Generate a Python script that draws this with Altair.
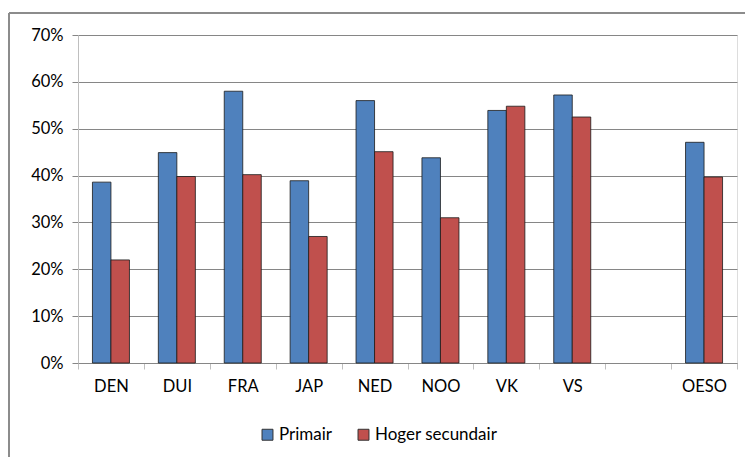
import altair as alt
import pandas as pd

categories = ["DEN", "DUI", "FRA", "JAP", "NED", "NOO", "VK", "VS", " ", "OESO"]
primair = [0.386, 0.449, 0.580, 0.389, 0.560, 0.438, 0.539, 0.572, None, 0.471]
hoger = [0.220, 0.398, 0.402, 0.270, 0.451, 0.310, 0.548, 0.525, None, 0.397]
series = ["Primair", "Hoger secundair"]
colors = ["#4F81BD", "#C0504D"]

rows = []
for c, p, h in zip(categories, primair, hoger):
    rows.append({"cat": c, "serie": series[0], "val": p})
    rows.append({"cat": c, "serie": series[1], "val": h})
df = pd.DataFrame(rows)

FONT = "Lato"

bars = alt.Chart(df).mark_bar(stroke="#1a1a1a", strokeWidth=0.8).encode(
    x=alt.X("cat:N", sort=categories, title=None,
            scale=alt.Scale(paddingInner=0, paddingOuter=0),
            axis=alt.Axis(labelAngle=0, tickBand="extent", tickSize=6,
                          tickColor="#bfbfbf", domainColor="#868686",
                          labelPadding=9, labelFontSize=16.5, labelFont=FONT,
                          labelColor="black", grid=False)),
    xOffset=alt.XOffset("serie:N", sort=series,
                        scale=alt.Scale(paddingInner=0, paddingOuter=0.78)),
    y=alt.Y("val:Q", title=None,
            scale=alt.Scale(domain=[0, 0.7]),
            axis=alt.Axis(format=".0%", values=[0, .1, .2, .3, .4, .5, .6, .7],
                          tickSize=6, tickColor="#868686", domainColor="#bfbfbf",
                          gridColor="#868686", gridWidth=1,
                          labelPadding=9, labelFontSize=16.5, labelFont=FONT,
                          labelColor="black")),
    color=alt.Color("serie:N", sort=series,
                    scale=alt.Scale(domain=series, range=colors),
                    legend=alt.Legend(title=None, orient="none", direction="horizontal",
                                      legendX=181, legendY=391,
                                      symbolType="square", symbolSize=120,
                                      symbolStrokeColor="#333333", symbolStrokeWidth=1,
                                      labelFontSize=17, labelFont=FONT,
                                      labelColor="black", columnPadding=22,
                                      symbolOffset=0, labelOffset=3)),
)

border_df = pd.DataFrame({"k": [0]})
left_border = alt.Chart(border_df).mark_rule(color="#8c8c8c", strokeWidth=2).encode(
    x=alt.value(-69), y=alt.value(-22), y2=alt.value(480))
top_border = alt.Chart(border_df).mark_rule(color="#8c8c8c", strokeWidth=2).encode(
    x=alt.value(-69), x2=alt.value(700), y=alt.value(-22))

chart = alt.layer(bars, left_border, top_border).properties(
    width=659, height=328,
    padding={"left": 70, "top": 27, "right": 8, "bottom": 120},
    autosize=alt.AutoSizeParams(type="none"),
).configure_view(stroke=None).configure(background="white")

chart.save("out.html", embed_options={"renderer": "svg", "actions": False})
